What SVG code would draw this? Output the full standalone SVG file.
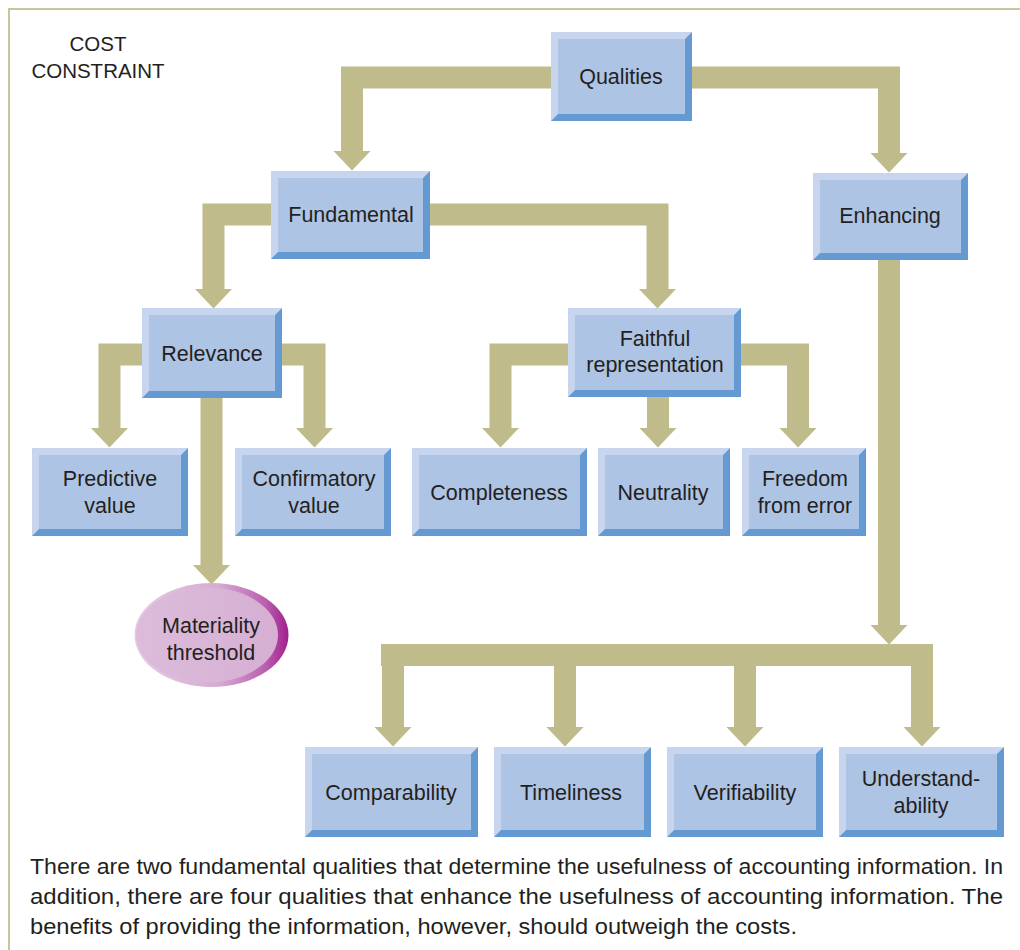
<svg xmlns="http://www.w3.org/2000/svg" width="1020" height="950" viewBox="0 0 1020 950">
  <style>
    .dk { fill: #6499d2; }
    .lt { fill: #c7d6ee; }
    .face { fill: #aec4e5; }
    .lbl { font-family: "Liberation Sans", Arial, sans-serif; font-size: 21.5px; fill: #231f20; text-anchor: middle; }
    .cap { font-family: "Liberation Sans", Arial, sans-serif; font-size: 22px; fill: #231f20; }
    .bar { fill: none; stroke: #bfbb8a; stroke-width: 22; stroke-linejoin: miter; stroke-linecap: butt; }
    .arr { marker-end: url(#head); }
  </style>
  <defs>
    <marker id="head" markerUnits="userSpaceOnUse" markerWidth="20" markerHeight="38" refX="0" refY="19" orient="auto" overflow="visible">
      <path d="M0,0.5 L19.5,19 L0,37.5 z" fill="#bfbb8a"/>
    </marker>
    <linearGradient id="pinkRim" x1="0" y1="0" x2="1" y2="0">
      <stop offset="0" stop-color="#e6cbe4"/>
      <stop offset="0.55" stop-color="#d6abd3"/>
      <stop offset="0.85" stop-color="#bb5fae"/>
      <stop offset="1" stop-color="#a01f8c"/>
    </linearGradient>
    <linearGradient id="pinkFace" x1="0" y1="0" x2="1" y2="0">
      <stop offset="0" stop-color="#dcbcda"/>
      <stop offset="1" stop-color="#d6afd3"/>
    </linearGradient>
  </defs>

  <!-- page frame -->
  <path d="M1020,9 H9 V950" fill="none" stroke="#c9c59d" stroke-width="2"/>

  <text class="lbl" x="98" y="51" style="font-size:20.5px">COST</text>
  <text class="lbl" x="98" y="78" style="font-size:20.5px">CONSTRAINT</text>

  <!-- connectors -->
  <g id="connectors">
    <path class="bar arr" d="M551,77.5 H352 V151"/>
    <path class="bar arr" d="M692,77.5 H889 V153"/>
    <path class="bar arr" d="M271,214.5 H213.5 V289"/>
    <path class="bar arr" d="M430,214.5 H657.5 V289"/>
    <path class="bar arr" d="M142,354.5 H109.5 V428"/>
    <path class="bar arr" d="M282,354.5 H314.5 V428"/>
    <path class="bar arr" d="M211.5,398 V565"/>
    <path class="bar arr" d="M568,354.5 H500.5 V428"/>
    <path class="bar arr" d="M658,397 V428"/>
    <path class="bar arr" d="M741,354.5 H798 V428"/>
    <path class="bar arr" d="M889,260 V625"/>
    <path class="bar" d="M381,655 H933"/>
    <path class="bar arr" d="M393,644 V727"/>
    <path class="bar arr" d="M565,666 V727"/>
    <path class="bar arr" d="M745,666 V727"/>
    <path class="bar arr" d="M922,644 V727"/>
  </g>

  <!-- boxes -->
  <g id="qualities">
    <rect class="dk" x="551" y="32" width="141" height="89"/>
    <path class="lt" d="M551,32 h141 l-7,7 h-127 v75 l-7,7 z"/>
    <rect class="face" x="558" y="39" width="127" height="75"/>
    <text class="lbl" x="621" y="84">Qualities</text>
  </g>
  <g id="fundamental">
    <rect class="dk" x="271" y="171" width="159" height="88"/>
    <path class="lt" d="M271,171 h159 l-7,7 h-145 v74 l-7,7 z"/>
    <rect class="face" x="278" y="178" width="145" height="74"/>
    <text class="lbl" x="351" y="222">Fundamental</text>
  </g>
  <g id="enhancing">
    <rect class="dk" x="813" y="173" width="155" height="87"/>
    <path class="lt" d="M813,173 h155 l-7,7 h-141 v73 l-7,7 z"/>
    <rect class="face" x="820" y="180" width="141" height="73"/>
    <text class="lbl" x="890" y="223">Enhancing</text>
  </g>
  <g id="relevance">
    <rect class="dk" x="142" y="308" width="140" height="90"/>
    <path class="lt" d="M142,308 h140 l-7,7 h-126 v76 l-7,7 z"/>
    <rect class="face" x="149" y="315" width="126" height="76"/>
    <text class="lbl" x="212" y="361">Relevance</text>
  </g>
  <g id="faithful">
    <rect class="dk" x="568" y="308" width="173" height="89"/>
    <path class="lt" d="M568,308 h173 l-7,7 h-159 v75 l-7,7 z"/>
    <rect class="face" x="575" y="315" width="159" height="75"/>
    <text class="lbl" x="655" y="346">Faithful</text>
    <text class="lbl" x="655" y="372">representation</text>
  </g>
  <g id="predictive">
    <rect class="dk" x="32" y="448" width="156" height="88"/>
    <path class="lt" d="M32,448 h156 l-7,7 h-142 v74 l-7,7 z"/>
    <rect class="face" x="39" y="455" width="142" height="74"/>
    <text class="lbl" x="110" y="486">Predictive</text>
    <text class="lbl" x="110" y="513">value</text>
  </g>
  <g id="confirmatory">
    <rect class="dk" x="235" y="448" width="156" height="88"/>
    <path class="lt" d="M235,448 h156 l-7,7 h-142 v74 l-7,7 z"/>
    <rect class="face" x="242" y="455" width="142" height="74"/>
    <text class="lbl" x="314" y="486">Confirmatory</text>
    <text class="lbl" x="314" y="513">value</text>
  </g>
  <g id="completeness">
    <rect class="dk" x="412" y="448" width="175" height="88"/>
    <path class="lt" d="M412,448 h175 l-7,7 h-161 v74 l-7,7 z"/>
    <rect class="face" x="419" y="455" width="161" height="74"/>
    <text class="lbl" x="499" y="500">Completeness</text>
  </g>
  <g id="neutrality">
    <rect class="dk" x="598" y="448" width="132" height="88"/>
    <path class="lt" d="M598,448 h132 l-7,7 h-118 v74 l-7,7 z"/>
    <rect class="face" x="605" y="455" width="118" height="74"/>
    <text class="lbl" x="663" y="500">Neutrality</text>
  </g>
  <g id="freedom">
    <rect class="dk" x="742" y="448" width="124" height="88"/>
    <path class="lt" d="M742,448 h124 l-7,7 h-110 v74 l-7,7 z"/>
    <rect class="face" x="749" y="455" width="110" height="74"/>
    <text class="lbl" x="805" y="486">Freedom</text>
    <text class="lbl" x="805" y="513">from error</text>
  </g>
  <g id="materiality">
    <ellipse cx="211.5" cy="635" rx="77" ry="52" fill="url(#pinkRim)"/>
    <ellipse cx="207" cy="635" rx="71" ry="47.5" fill="url(#pinkFace)"/>
    <text class="lbl" x="211" y="633">Materiality</text>
    <text class="lbl" x="211" y="660">threshold</text>
  </g>
  <g id="comparability">
    <rect class="dk" x="305" y="747" width="173" height="90"/>
    <path class="lt" d="M305,747 h173 l-7,7 h-159 v76 l-7,7 z"/>
    <rect class="face" x="312" y="754" width="159" height="76"/>
    <text class="lbl" x="391" y="800">Comparability</text>
  </g>
  <g id="timeliness">
    <rect class="dk" x="494" y="747" width="157" height="90"/>
    <path class="lt" d="M494,747 h157 l-7,7 h-143 v76 l-7,7 z"/>
    <rect class="face" x="501" y="754" width="143" height="76"/>
    <text class="lbl" x="571" y="800">Timeliness</text>
  </g>
  <g id="verifiability">
    <rect class="dk" x="667" y="747" width="156" height="90"/>
    <path class="lt" d="M667,747 h156 l-7,7 h-142 v76 l-7,7 z"/>
    <rect class="face" x="674" y="754" width="142" height="76"/>
    <text class="lbl" x="745" y="800">Verifiability</text>
  </g>
  <g id="understandability">
    <rect class="dk" x="839" y="747" width="165" height="90"/>
    <path class="lt" d="M839,747 h165 l-7,7 h-151 v76 l-7,7 z"/>
    <rect class="face" x="846" y="754" width="151" height="76"/>
    <text class="lbl" x="921" y="786">Understand-</text>
    <text class="lbl" x="921" y="813">ability</text>
  </g>

  <!-- caption -->
  <text class="cap" x="30" y="874" textLength="973" lengthAdjust="spacingAndGlyphs">There are two fundamental qualities that determine the usefulness of accounting information. In</text>
  <text class="cap" x="30" y="904" textLength="973" lengthAdjust="spacingAndGlyphs">addition, there are four qualities that enhance the usefulness of accounting information. The</text>
  <text class="cap" x="30" y="934" textLength="767" lengthAdjust="spacingAndGlyphs">benefits of providing the information, however, should outweigh the costs.</text>
</svg>
